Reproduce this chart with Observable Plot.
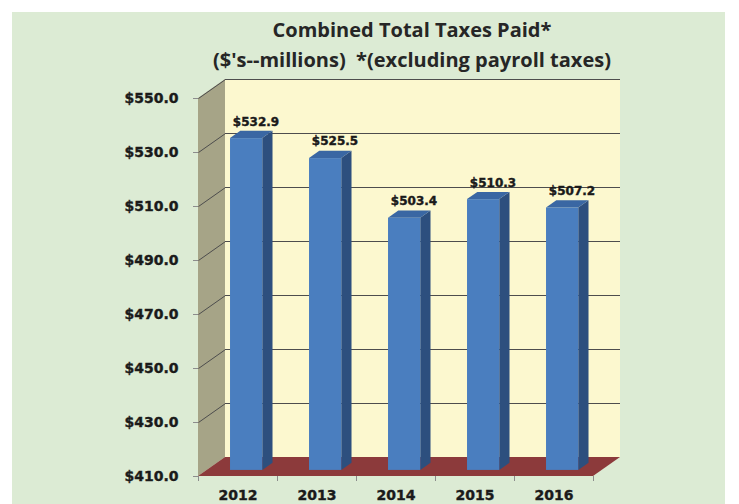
<!DOCTYPE html>
<html>
<head>
<meta charset="utf-8">
<script src="https://cdn.jsdelivr.net/npm/d3@7"></script>
<script src="https://cdn.jsdelivr.net/npm/@observablehq/plot@0.6"></script>
<style>
  html, body { margin: 0; padding: 0; background: #ffffff; }
  #page { position: relative; width: 739px; height: 504px; overflow: hidden; }
  #panel { position: absolute; left: 12px; top: 12px; width: 713px; height: 492px; background: #dcebd4; }
  #title { position: absolute; left: 100px; width: 624px; top: 15px; text-align: center;
           font-family: "Open Sans", sans-serif; font-weight: 700; font-size: 20px; line-height: 30px; color: #262626; white-space: pre; }
  #chart { position: absolute; left: 0; top: 0; }
  #chart svg text { font-family: "DejaVu Sans", sans-serif; font-weight: 700; fill: #1a1a1a; stroke: #1a1a1a; stroke-width: 0.4px; }
</style>
</head>
<body>
<div id="page">
  <div id="panel"></div>
  <div id="chart"></div>
  <div id="title">Combined Total Taxes Paid*
($'s--millions)  *(excluding payroll taxes)</div>
</div>
<script>
// ---- data ----
const years = ["2012", "2013", "2014", "2015", "2016"];
const taxes = [532.9, 525.5, 503.4, 510.3, 507.2];
const yTicks = [410, 430, 450, 470, 490, 510, 530, 550];

// ---- 3D styling constants ----
const Y0 = 410, Y1 = 550, N = years.length;
const depthPx = [27, -19];            // full floor depth in pixels
const pxPerX = 79, pxPerY = 378 / 140; // scale ratios (from range/domain below)
const DXu = depthPx[0] / pxPerX;       // depth in x data units
const DYu = -depthPx[1] / pxPerY;      // depth in y data units
const W = 0.408, Z0 = 0.32, ZB = 0.38;

const colFront = "#4a7ebf", colSide = "#2d4f7e", colTop = "#3a67a3";
const colWall = "#fcf8cf", colSideWall = "#a6a487", colFloor = "#8c3a3b", colGrid = "#4d4d4d";

const bars = years.map((year, i) => ({
  year, value: taxes[i], base: Y0, cx: i + 0.5,
  x1: i + 0.5 - W / 2, x2: i + 0.5 + W / 2
}));
const sidePts = bars.flatMap(b => [
  {year: b.year, x: b.x2, y1: Y0, y2: b.value},
  {year: b.year, x: b.x2 + ZB * DXu, y1: Y0 + ZB * DYu, y2: b.value + ZB * DYu}
]);
const topPts = bars.flatMap(b => [
  {year: b.year, y: b.value, x1: b.x1, x2: b.x2},
  {year: b.year, y: b.value + ZB * DYu, x1: b.x1 + ZB * DXu, x2: b.x2 + ZB * DXu}
]);
const bdx = Z0 * depthPx[0], bdy = Z0 * depthPx[1];
const gridTicks = yTicks.filter(t => t > Y0);

const chart = Plot.plot({
  width: 739, height: 504,
  marginLeft: 198, marginRight: 146, marginTop: 98, marginBottom: 28,
  style: {background: "transparent", overflow: "visible", fontFamily: "DejaVu Sans"},
  x: {domain: [0, N], axis: null},
  y: {domain: [Y0, Y1], axis: null},
  marks: [
    // back wall
    Plot.rect([{}], {x1: 0, x2: N, y1: Y0, y2: Y1, fill: colWall, dx: depthPx[0], dy: depthPx[1]}),
    Plot.ruleY(gridTicks, {x1: 0, x2: N, stroke: colGrid, strokeWidth: 1, dx: depthPx[0], dy: depthPx[1]}),
    // left side wall
    Plot.areaY([{x: 0, y1: Y0, y2: Y1}, {x: DXu, y1: Y0 + DYu, y2: Y1 + DYu}],
      {x: "x", y1: "y1", y2: "y2", fill: colSideWall}),
    Plot.link(gridTicks, {x1: 0, y1: d => d, x2: DXu, y2: d => d + DYu, stroke: colGrid, strokeWidth: 1}),
    // floor
    Plot.areaX([{y: Y0, x1: 0, x2: N}, {y: Y0 + DYu, x1: DXu, x2: N + DXu}],
      {y: "y", x1: "x1", x2: "x2", fill: colFloor}),
    // bars
    Plot.areaY(sidePts, {x: "x", y1: "y1", y2: "y2", z: "year", fill: colSide, dx: bdx, dy: bdy}),
    Plot.areaX(topPts, {y: "y", x1: "x1", x2: "x2", z: "year", fill: colTop, dx: bdx, dy: bdy}),
    Plot.rect(bars, {x1: "x1", x2: "x2", y1: "base", y2: "value", fill: colFront, dx: bdx, dy: bdy}),
    // value labels
    Plot.text(bars, {x: "cx", y: "value", text: d => "$" + d.value.toFixed(1),
      dx: 18, dy: -23, fontSize: 12}),
    // axes
    Plot.axisY({ticks: yTicks, tickSize: 5, tickPadding: 15, fontSize: 14, stroke: "#8c8c8c",
      tickFormat: d => "$" + d.toFixed(1)}),
    Plot.axisX({ticks: d3.range(0, N + 1), tickSize: 5, tickFormat: () => "", stroke: "#8c8c8c"}),
    Plot.axisX({ticks: years.map((_, i) => i + 0.5), tickSize: 0, tickPadding: 14, fontSize: 14,
      tickFormat: d => years[Math.round(d - 0.5)]})
  ]
});
document.getElementById("chart").appendChild(chart);
</script>
</body>
</html>
